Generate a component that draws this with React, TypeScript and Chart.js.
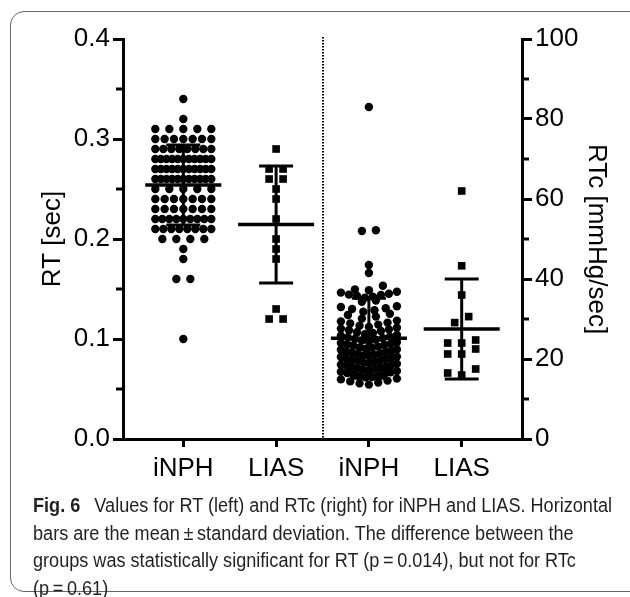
import React, { useEffect, useLayoutEffect, useRef } from 'react';
import { Chart, registerables } from 'chart.js';

Chart.register(...registerables);

// ---------- data ----------
const CATEGORIES = ['iNPH', 'LIAS', 'iNPH', 'LIAS'];
const RT_TICKS = [0, 0.1, 0.2, 0.3, 0.4];
const RT_MINOR = [0.05, 0.15, 0.25, 0.35];
const RTC_TICKS = [0, 20, 40, 60, 80, 100];
const RTC_MINOR = [10, 30, 50, 70, 90];

// RT [sec], iNPH (circles)
const RT_INPH = [
  0.34, 0.32,
  0.31, 0.31, 0.31, 0.31, 0.31,
  0.30, 0.30, 0.30, 0.30, 0.30, 0.30, 0.30,
  0.29, 0.29, 0.29, 0.29, 0.29, 0.29, 0.29, 0.29,
  0.28, 0.28, 0.28, 0.28, 0.28, 0.28, 0.28, 0.28, 0.28, 0.28, 0.28,
  0.27, 0.27, 0.27, 0.27, 0.27, 0.27, 0.27, 0.27, 0.27, 0.27, 0.27,
  0.26, 0.26, 0.26, 0.26, 0.26, 0.26, 0.26, 0.26, 0.26, 0.26, 0.26,
  0.25, 0.25, 0.25, 0.25, 0.25,
  0.24, 0.24, 0.24, 0.24, 0.24, 0.24, 0.24,
  0.23, 0.23, 0.23, 0.23, 0.23, 0.23, 0.23,
  0.22, 0.22, 0.22, 0.22, 0.22, 0.22, 0.22, 0.22, 0.22,
  0.21, 0.21, 0.21, 0.21, 0.21, 0.21, 0.21, 0.21,
  0.20, 0.20, 0.20, 0.20,
  0.19, 0.18, 0.16, 0.16, 0.10,
];
// RT [sec], LIAS (squares)
const RT_LIAS = [0.29, 0.27, 0.27, 0.26, 0.26, 0.25, 0.24, 0.22, 0.20, 0.19, 0.18, 0.13, 0.12, 0.12];

// RTc [mmHg/sec], iNPH (circles)
const RTC_INPH = [
  13.6, 13.9, 14.1, 14.4, 14.6, 14.9, 15.1,
  15.4, 15.5, 15.7, 15.9, 16.1, 16.3, 16.5, 16.7, 16.8, 17.0,
  17.2, 17.3, 17.5, 17.6, 17.8, 18.0, 18.1, 18.3, 18.5, 18.6, 18.8,
  19.0, 19.1, 19.3, 19.5, 19.6, 19.8, 20.0, 20.1, 20.3, 20.5, 20.6,
  20.8, 20.9, 21.1, 21.3, 21.4, 21.6, 21.8, 21.9, 22.1, 22.3, 22.4,
  22.6, 22.8, 22.9, 23.1, 23.3, 23.5, 23.7, 23.8, 24.0, 24.2,
  24.4, 24.6, 24.8, 25.0, 25.2, 25.4, 25.6, 25.8, 26.0,
  26.2, 26.5, 26.7, 27.0, 27.2, 27.4, 27.6, 27.8,
  28.0, 28.3, 28.6, 28.9, 29.1, 29.4, 29.6,
  30.1, 30.6, 31.0, 31.3,
  31.8, 32.2, 32.5, 32.7, 33.0, 33.2,
  34.3, 34.6,
  35.3, 35.6, 35.8, 36.0, 36.1, 36.3, 36.6, 36.8,
  37.2, 37.4, 38.3,
  41.5, 43.5, 52.0, 52.2, 83.0,
];
// RTc [mmHg/sec], LIAS (squares)
const RTC_LIAS = [62, 43.3, 36, 30.6, 29.1, 24.75, 24, 24, 22.5, 21.25, 21.25, 17.5, 16.5, 16];

// mean and standard deviation per group
const MEANS = [0.254, 0.2145, 25.2, 27.5];
const SDS = [0.040, 0.0585, 10.0, 12.5];

const CAPTION_BOLD = 'Fig. 6';
const CAPTION_LINES = [
  'Values for RT (left) and RTc (right) for iNPH and LIAS. Horizontal',
  'bars are the mean\u2009\u00b1\u2009standard deviation. The difference between the',
  'groups was statistically significant for RT (p\u2009=\u20090.014), but not for RTc',
  '(p\u2009=\u20090.61)',
];

// ---------- layout constants ----------
const X_MIN = -0.65;
const X_MAX = 3.65;
const PLOT_W = 399; // px width of chart area
const PX_PER_X = PLOT_W / (X_MAX - X_MIN);
const STEP_PX = 14;
const SPREAD_PX = 56;
const FONT_FAMILY = "'Liberation Sans', Arial, Helvetica, sans-serif";
const CAPTION_FIRST_LINE_WIDTH = 579;

function swarm(values: number[], center: number, bin: number, origin: number) {
  const groups = new Map<number, number[]>();
  values.forEach((v) => {
    const k = Math.floor((v - origin) / bin + 1e-9);
    if (!groups.has(k)) groups.set(k, []);
    groups.get(k)!.push(v);
  });
  const pts: { x: number; y: number }[] = [];
  groups.forEach((vs) => {
    vs.sort((a, b) => a - b);
    const n = vs.length;
    const s = n > 1 ? Math.min(STEP_PX, SPREAD_PX / (n - 1)) : 0;
    const slots = Array.from({ length: n }, (_, j) => (j - (n - 1) / 2) * s);
    slots.sort((a, b) => Math.abs(a) - Math.abs(b) || a - b);
    vs.forEach((v, i) => pts.push({ x: center + slots[i] / PX_PER_X, y: v }));
  });
  return pts;
}

const overlayPlugin = {
  id: 'overlay',
  afterDatasetsDraw(chart: any) {
    const { ctx, chartArea, scales } = chart;
    const xs = scales.x;
    const yL = scales.y;
    const yR = scales.y2;
    const line = (x1: number, y1: number, x2: number, y2: number) => {
      ctx.beginPath();
      ctx.moveTo(x1, y1);
      ctx.lineTo(x2, y2);
      ctx.stroke();
    };
    ctx.save();
    ctx.strokeStyle = '#000';
    // dotted divider between RT and RTc groups
    ctx.lineWidth = 2;
    ctx.setLineDash([1.6, 1.4]);
    const dx = Math.round(xs.getPixelForValue(1.5));
    line(dx, chartArea.top - 2, dx, chartArea.bottom);
    ctx.setLineDash([]);
    // mean +/- SD
    MEANS.forEach((m, i) => {
      const ys = i < 2 ? yL : yR;
      const cx = xs.getPixelForValue(i);
      const ym = ys.getPixelForValue(m);
      const yt = ys.getPixelForValue(m + SDS[i]);
      const yb = ys.getPixelForValue(m - SDS[i]);
      ctx.lineWidth = 3.5;
      line(cx - 38, ym, cx + 38, ym);
      ctx.lineWidth = 3;
      line(cx, yt, cx, yb);
      line(cx - 17, yt, cx + 17, yt);
      line(cx - 17, yb, cx + 17, yb);
    });
    // minor ticks
    ctx.lineWidth = 3;
    RT_MINOR.forEach((v) => {
      const y = yL.getPixelForValue(v);
      line(chartArea.left - 7, y, chartArea.left, y);
    });
    RTC_MINOR.forEach((v) => {
      const y = yR.getPixelForValue(v);
      line(chartArea.right, y, chartArea.right + 7, y);
    });
    ctx.restore();
  },
};

export default function App() {
  const ref = useRef<HTMLCanvasElement>(null);
  const capRef = useRef<HTMLDivElement>(null);
  const firstLineRef = useRef<HTMLSpanElement>(null);

  useLayoutEffect(() => {
    const cap = capRef.current;
    const first = firstLineRef.current;
    if (!cap || !first) return;
    const w = first.getBoundingClientRect().width;
    if (w > 0) {
      cap.style.transform = `scaleX(${CAPTION_FIRST_LINE_WIDTH / w})`;
    }
  }, []);

  useEffect(() => {
    if (!ref.current) return;
    const tickFont = { family: FONT_FAMILY, size: 26 };
    const axisGrid = {
      drawOnChartArea: false,
      drawTicks: true,
      tickLength: 10,
      tickWidth: 3,
      tickColor: '#000',
      color: '#000',
      lineWidth: 3,
    };
    const chart = new Chart(ref.current, {
      type: 'scatter',
      data: {
        datasets: [
          {
            data: swarm(RT_INPH, 0, 0.01, -0.005),
            yAxisID: 'y',
            pointStyle: 'circle',
            pointRadius: 4.2,
            backgroundColor: '#000',
            borderWidth: 0,
          },
          {
            data: swarm(RT_LIAS, 1, 0.01, -0.005),
            yAxisID: 'y',
            pointStyle: 'rect',
            pointRadius: 5.4,
            backgroundColor: '#000',
            borderWidth: 0,
          },
          {
            data: swarm(RTC_INPH, 2, 1.8, 13.5),
            yAxisID: 'y2',
            pointStyle: 'circle',
            pointRadius: 4.2,
            backgroundColor: '#000',
            borderWidth: 0,
          },
          {
            data: swarm(RTC_LIAS, 3, 4, 15),
            yAxisID: 'y2',
            pointStyle: 'rect',
            pointRadius: 5.4,
            backgroundColor: '#000',
            borderWidth: 0,
          },
        ] as any,
      },
      options: {
        animation: false,
        responsive: false,
        devicePixelRatio: 1,
        events: [],
        layout: { padding: { top: 39, left: 0, right: 0, bottom: 0 } },
        plugins: { legend: { display: false }, tooltip: { enabled: false } },
        scales: {
          x: {
            type: 'linear',
            position: 'bottom',
            min: X_MIN,
            max: X_MAX,
            afterBuildTicks: (s: any) => {
              s.ticks = CATEGORIES.map((_, i) => ({ value: i }));
            },
            afterFit: (s: any) => {
              s.height = 61;
            },
            ticks: {
              callback: (v: any) => CATEGORIES[v as number] ?? '',
              color: '#000',
              font: tickFont,
              padding: 6,
              maxRotation: 0,
              autoSkip: false,
            },
            grid: { ...axisGrid, tickLength: 8 },
            border: { display: true, color: '#000', width: 3 },
          },
          y: {
            type: 'linear',
            position: 'left',
            min: 0,
            max: 0.4,
            afterBuildTicks: (s: any) => {
              s.ticks = RT_TICKS.map((v) => ({ value: v }));
            },
            afterFit: (s: any) => {
              s.width = 123;
            },
            ticks: {
              callback: (v: any) => Number(v).toFixed(1),
              color: '#000',
              font: tickFont,
              padding: 3,
            },
            grid: axisGrid,
            border: { display: true, color: '#000', width: 3 },
            title: {
              display: true,
              text: 'RT [sec]',
              color: '#000',
              font: { family: FONT_FAMILY, size: 26 },
              padding: { top: 37, bottom: 0 },
            },
          },
          y2: {
            type: 'linear',
            position: 'right',
            min: 0,
            max: 100,
            afterBuildTicks: (s: any) => {
              s.ticks = RTC_TICKS.map((v) => ({ value: v }));
            },
            afterFit: (s: any) => {
              s.width = 108;
            },
            ticks: {
              callback: (v: any) => String(v),
              color: '#000',
              font: tickFont,
              padding: 3,
            },
            grid: axisGrid,
            border: { display: true, color: '#000', width: 3 },
            title: {
              display: true,
              text: 'RTc [mmHg/sec]',
              color: '#000',
              font: { family: FONT_FAMILY, size: 26 },
              padding: { top: 18, bottom: 0 },
            },
          },
        },
      } as any,
      plugins: [overlayPlugin],
    });
    return () => chart.destroy();
  }, []);

  return (
    <div style={{ position: 'absolute', left: 0, top: 0, width: 630, height: 597, overflow: 'hidden', background: '#fff' }}>
      <div
        style={{
          position: 'absolute',
          left: 10,
          top: 11,
          width: 700,
          height: 581,
          border: '1.5px solid #666',
          borderRadius: 14,
          boxSizing: 'border-box',
        }}
      />
      <canvas ref={ref} width={630} height={500} style={{ position: 'absolute', left: 0, top: 0, width: 630, height: 500 }} />
      <div
        ref={capRef}
        style={{
          position: 'absolute',
          left: 33,
          top: 492,
          fontFamily: "'Liberation Sans', Arial, sans-serif",
          fontSize: 19.5,
          lineHeight: '27.5px',
          color: '#231f20',
          whiteSpace: 'nowrap',
          transformOrigin: '0 0',
        }}
      >
        <div>
          <span ref={firstLineRef}>
            <b>{CAPTION_BOLD}</b>
            {'\u2002 '}
            {CAPTION_LINES[0]}
          </span>
        </div>
        {CAPTION_LINES.slice(1).map((t) => (
          <div key={t}>{t}</div>
        ))}
      </div>
    </div>
  );
}
